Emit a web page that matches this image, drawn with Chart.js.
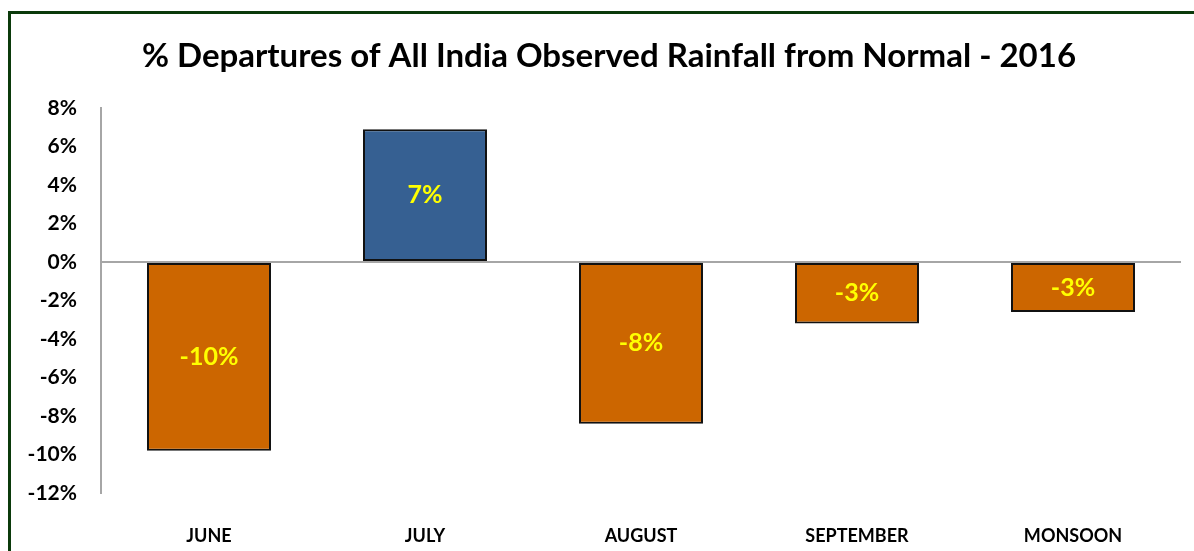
<!DOCTYPE html>
<html>
<head>
<meta charset="utf-8">
<script src="https://cdn.jsdelivr.net/npm/chart.js@4/dist/chart.umd.min.js"></script>
<style>
  html, body { margin:0; padding:0; background:#fff; overflow:hidden; }
  #wrap { position:relative; width:1194px; height:551px; }
  #frame { position:absolute; left:8px; top:11px; width:1400px; height:800px; border:3px solid #0b3a0b; box-sizing:border-box; pointer-events:none; }
</style>
</head>
<body>
<div id="wrap">
  <canvas id="c" width="1194" height="551"></canvas>
  <div id="frame"></div>
</div>
<script>
const categories = ['JUNE', 'JULY', 'AUGUST', 'SEPTEMBER', 'MONSOON'];
const departures = [-9.8, 6.9, -8.4, -3.2, -2.6];
const yTicks = [8, 6, 4, 2, 0, -2, -4, -6, -8, -10, -12];
const titleText = '% Departures of All India Observed Rainfall from Normal - 2016';

const FONT = 'Lato, "Open Sans", sans-serif';

const titleDraw = {
  id: 'titleDraw',
  afterDraw(chart) {
    const ctx = chart.ctx;
    ctx.save();
    ctx.fillStyle = '#000';
    ctx.font = 'bold 33px ' + FONT;
    ctx.textAlign = 'center';
    ctx.textBaseline = 'middle';
    ctx.fillText(titleText, 609, 56);
    ctx.restore();
  }
};

const valueLabels = {
  id: 'valueLabels',
  afterDatasetsDraw(chart) {
    const ctx = chart.ctx;
    const meta = chart.getDatasetMeta(0);
    ctx.save();
    ctx.fillStyle = '#FFFF00';
    ctx.font = 'bold 25px ' + FONT;
    ctx.textAlign = 'center';
    ctx.textBaseline = 'middle';
    meta.data.forEach((bar, i) => {
      const v = chart.data.datasets[0].data[i];
      const cy = (bar.y + bar.base) / 2;
      ctx.fillText(Math.round(v) + '%', bar.x, cy);
    });
    ctx.restore();
  }
};

new Chart(document.getElementById('c'), {
  type: 'bar',
  data: {
    labels: categories,
    datasets: [{
      data: departures,
      backgroundColor: departures.map(v => v >= 0 ? '#366092' : '#CC6600'),
      borderColor: '#111',
      borderWidth: 2,
      borderSkipped: false,
      barPercentage: 1,
      categoryPercentage: 0.574
    }]
  },
  options: {
    responsive: false,
    animation: false,
    devicePixelRatio: 1,
    layout: { padding: { top: 108, left: 0, right: 13, bottom: 0 } },
    plugins: {
      legend: { display: false },
      tooltip: { enabled: false },
      title: { display: false }
    },
    scales: {
      x: {
        grid: { display: false, drawTicks: false },
        border: { display: false },
        ticks: { color: '#000', font: { family: FONT, size: 18, weight: 'bold' }, padding: 32, maxRotation: 0 },
        afterFit(s) { s.height = 58; }
      },
      y: {
        min: -12,
        max: 8,
        afterBuildTicks(s) { s.ticks = yTicks.map(v => ({ value: v })); },
        grid: {
          drawTicks: false,
          color: ctx => (ctx.tick && ctx.tick.value === 0) ? '#a6a6a6' : 'rgba(0,0,0,0)',
          lineWidth: 2
        },
        border: { display: true, color: '#a6a6a6', width: 2 },
        ticks: {
          color: '#000',
          font: { family: FONT, size: 21, weight: 'bold' },
          padding: 24,
          callback: v => v + '%'
        },
        afterFit(s) { s.width = 101; }
      }
    }
  },
  plugins: [valueLabels, titleDraw]
});
</script>
</body>
</html>
